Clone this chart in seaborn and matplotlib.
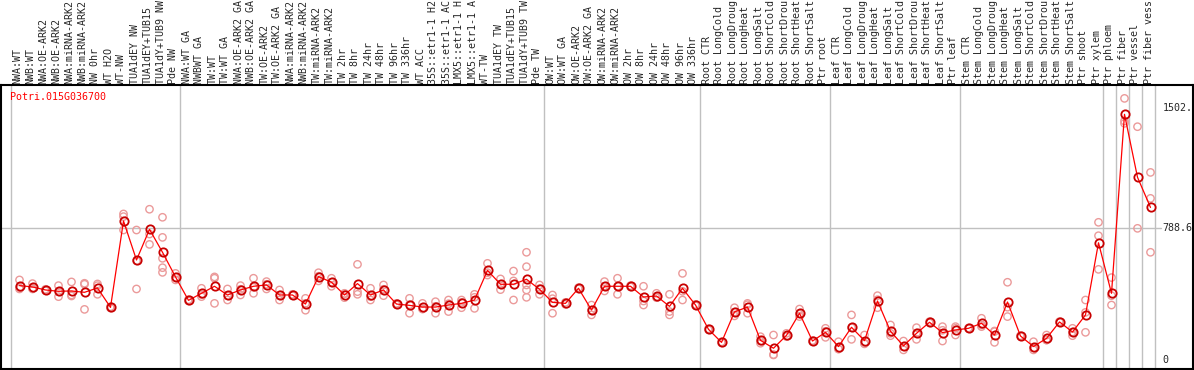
import numpy as np
import pandas as pd
import matplotlib
matplotlib.use("Agg")
import matplotlib.pyplot as plt
import matplotlib.transforms as mtransforms
import seaborn as sns

# sample names (as shown, cut to 14 chars)
labels = [
    "NWA:WT", "NWB:WT", "NWA:OE-ARK2", "NWB:OE-ARK2", "NWA:miRNA-ARK2",
    "NWB:miRNA-ARK2", "NW 0hr", "WT H2O", "WT-NW", "TUA1dEY NW",
    "TUA1dEY+TUB15", "TUA1dY+TUB9 NW", "Pde NW",
    "NWA:WT GA", "NWBWT GA", "TW:WT", "TW:WT GA", "NWA:OE-ARK2 GA",
    "NWB:OE-ARK2 GA", "TW:OE-ARK2", "TW:OE-ARK2 GA", "NWA:miRNA-ARK2",
    "NWB:miRNA-ARK2", "TW:miRNA-ARK2", "TW:miRNA-ARK2", "TW 2hr", "TW 8hr",
    "TW 24hr", "TW 48hr", "TW 96hr", "TW 336hr", "WT ACC", "35S::etr1-1 H2",
    "35S::etr1-1 AC", "LMX5::etr1-1 H", "LMX5::etr1-1 A", "WT-TW",
    "TUA1dEY TW", "TUA1dEY+TUB15", "TUA1dY+TUB9 TW", "Pde TW",
    "OW:WT", "OW:WT GA", "OW:OE-ARK2", "OW:OE-ARK2 GA", "OW:miRNA-ARK2",
    "OW:miRNA-ARK2", "OW 2hr", "OW 8hr", "OW 24hr", "OW 48hr", "OW 96hr",
    "OW 336hr",
    "Root CTR", "Root LongCold", "Root LongDroug", "Root LongHeat",
    "Root LongSalt", "Root ShortCold", "Root ShortDrou", "Root ShortHeat",
    "Root ShortSalt", "Ptr root",
    "Leaf CTR", "Leaf LongCold", "Leaf LongDroug", "Leaf LongHeat",
    "Leaf LongSalt", "Leaf ShortCold", "Leaf ShortDrou", "Leaf ShortHeat",
    "Leaf ShortSalt", "Ptr leaf",
    "Stem CTR", "Stem LongCold", "Stem LongDroug", "Stem LongHeat",
    "Stem LongSalt", "Stem ShortCold", "Stem ShortDrou", "Stem ShortHeat",
    "Stem ShortSalt", "Ptr shoot",
    "Ptr xylem", "Ptr phloem", "Ptr fiber", "Ptr vessel", "Ptr fiber vess",
]

# last sample index of each group (separator lines)
group_ends = [-1, 12, 40, 52, 62, 72, 83, 84, 85, 86, 87]

# mean expression per sample
means = [
    444, 436, 418, 410, 412, 404, 430, 314, 830, 597, 780, 643, 496,
    356, 398, 440, 388, 418, 440, 448, 388, 388, 334, 498, 464, 388, 456,
    388, 418, 334, 326, 316, 316, 328, 338, 358, 535, 452, 452, 482, 422,
    344, 338, 428, 298, 440, 440, 440, 376, 382, 320, 428, 328,
    183, 105, 287, 316, 117, 70, 147, 279, 113, 165,
    80, 195, 115, 352, 171, 84, 159, 225, 163, 179,
    189, 219, 149, 346, 143, 80, 129, 227, 167, 269,
    700, 398, 1467, 1091, 911,
]

# replicate values per sample
reps = [
    [478, 424, 430], [456, 424, 428], [422, 414, 418], [444, 378, 408],
    [466, 388, 382], [458, 452, 302], [454, 444, 392], [314, 310, 318],
    [872, 856, 776], [776, 424, 592], [900, 752, 690],
    [852, 732, 607, 551, 523], [517, 478, 494],
    [356, 352, 360], [428, 378, 390], [496, 488, 338], [424, 358, 384],
    [444, 388, 422], [488, 398, 434], [468, 424, 452], [418, 358, 388],
    [392, 384], [368, 297, 338], [521, 472, 500], [488, 440, 464],
    [372, 398, 394], [571, 408, 392], [428, 358, 378], [448, 384, 422],
    [334, 330, 338], [368, 279, 330], [338, 304, 306], [348, 279, 320],
    [358, 289, 336], [358, 312, 344], [392, 308, 374], [577, 507, 521],
    [484, 420, 452], [531, 472, 358], [643, 557, 448, 418, 374],
    [448, 392, 426],
    [388, 279, 366], [344, 332], [432, 424], [328, 269, 298],
    [468, 412, 440], [488, 392, 440], [444, 436], [440, 352, 328],
    [398, 372, 376], [392, 289, 269], [517, 358, 410], [332, 324],
    [186, 180], [108, 102], [312, 263, 286], [338, 279, 330],
    [139, 100, 112], [149, 30, 32], [159, 140, 142], [304, 259, 274],
    [116, 110], [189, 135, 171],
    [109, 66, 65], [269, 123, 193], [149, 96, 100], [384, 312, 360],
    [209, 145, 159], [113, 60, 79], [193, 123, 161], [229, 221],
    [199, 113, 177], [199, 149, 189],
    [191, 187], [249, 199, 209], [173, 105, 169], [464, 259, 315],
    [145, 141], [109, 60, 71], [149, 119, 119], [229, 225],
    [189, 145, 167], [358, 165, 284],
    [822, 742, 541], [492, 384, 328], [1562, 1427, 1413], [1393, 786],
    [1120, 965, 643],
]

ytick_vals = [0, 788.6, 1502]
ytick_text = ["0", "788.6", "1502."]
gene = "Potri.015G036700"

sns.set_style("white")
plt.rcParams["font.family"] = ["DejaVu Sans Mono", "DejaVu Sans"]
fs = 7.2

idx = np.arange(len(labels))
df_mean = pd.DataFrame({"sample": idx, "value": means})
df_rep = pd.DataFrame(
    [(i, v) for i, r in enumerate(reps) for v in r], columns=["sample", "value"]
)

fig = plt.figure(figsize=(11.94, 3.70), dpi=100)
ax = fig.add_axes([1 / 1194, 1 / 370, 1192 / 1194, 284 / 370])

# separators and reference line
for g in group_ends:
    ax.axvline(g + 0.35, color="#c0c0c0", lw=1, zorder=0)
ax.axhline(788.6, xmax=0.973, color="#c0c0c0", lw=1, zorder=0)

sns.scatterplot(data=df_rep, x="sample", y="value", ax=ax, marker="o", s=28,
                facecolor="none", edgecolor="#eb9a9a", linewidth=1.0, zorder=2)
sns.lineplot(data=df_mean, x="sample", y="value", ax=ax, color="red", lw=0.9,
             marker="o", markersize=6, markerfacecolor="none",
             markeredgecolor="#c80000", markeredgewidth=1.3, zorder=3)

xmin = -18.5 / 13
ax.set_xlim(xmin, xmin + 1192 / 13)
ax.set_ylim(-54, 1642)

ax.set_xticks(idx)
ax.set_xticklabels(labels, rotation=90, fontsize=fs)
ax.xaxis.set_ticks_position("top")
ax.tick_params(axis="x", length=0, pad=1)
shift = mtransforms.ScaledTranslation(-2 / 100, 0, fig.dpi_scale_trans)
for lab in ax.get_xticklabels():
    lab.set_transform(lab.get_transform() + shift)
ax.set_yticks([])
ax.set_xlabel("")
ax.set_ylabel("")

trans = mtransforms.blended_transform_factory(ax.transAxes, ax.transData)
for v, t in zip(ytick_vals, ytick_text):
    ax.text(0.9745, v, t, transform=trans, ha="left", va="center", fontsize=fs)

ax.text(0.0075, 0.958, gene, transform=ax.transAxes, color="red",
        ha="left", va="center", fontsize=fs)

for sp in ax.spines.values():
    sp.set_color("black")
    sp.set_linewidth(1.5)

fig.savefig("out.png", dpi=100)
